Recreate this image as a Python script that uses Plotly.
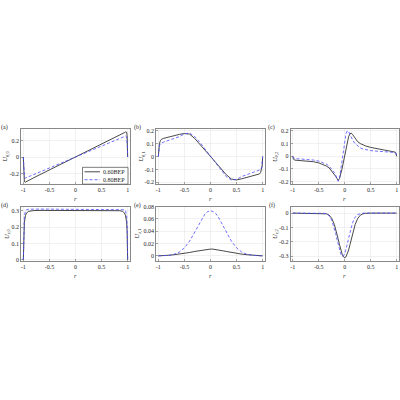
import plotly.graph_objects as go

# ---------------- data ----------------
R = [-1, -0.995, -0.99, -0.98, -0.96, -0.94, -0.9, -0.85, -0.8, -0.7, -0.6, -0.5, -0.4, -0.3, -0.25,
     -0.2, -0.15, -0.1, -0.05, 0, 0.05, 0.1, 0.15, 0.2, 0.25, 0.3, 0.4, 0.5, 0.6, 0.7, 0.8, 0.85,
     0.9, 0.94, 0.96, 0.98, 0.99, 0.995, 1]

RC = [-1, -0.99, -0.97, -0.9, -0.8, -0.7, -0.6, -0.5, -0.4, -0.35, -0.3, -0.25, -0.2, -0.175, -0.15,
      -0.125, -0.1, -0.075, -0.05, -0.025, 0, 0.025, 0.05, 0.075, 0.1, 0.125, 0.15, 0.175, 0.2, 0.25,
      0.3, 0.35, 0.4, 0.5, 0.6, 0.7, 0.8, 0.9, 0.97, 0.99, 1]

A_SOLID = [0, -0.17, -0.26, -0.30, -0.305, -0.297, -0.284, -0.268, -0.252, -0.22, -0.189, -0.157, -0.126,
           -0.094, -0.079, -0.063, -0.047, -0.031, -0.016, 0, 0.016, 0.031, 0.047, 0.063, 0.079, 0.094,
           0.126, 0.157, 0.189, 0.22, 0.252, 0.268, 0.284, 0.297, 0.305, 0.30, 0.26, 0.17, 0]
A_DASH = [0, -0.12, -0.20, -0.245, -0.255, -0.25, -0.24, -0.226, -0.213, -0.186, -0.16, -0.133, -0.107,
          -0.08, -0.067, -0.053, -0.04, -0.027, -0.013, 0, 0.013, 0.027, 0.04, 0.053, 0.067, 0.08,
          0.107, 0.133, 0.16, 0.186, 0.213, 0.226, 0.24, 0.25, 0.255, 0.245, 0.20, 0.12, 0]

B_SOLID = [0, 0.05, 0.075, 0.1, 0.125, 0.135, 0.142, 0.148, 0.153, 0.163, 0.173, 0.18, 0.175, 0.14,
           0.118, 0.094, 0.07, 0.046, 0.022, 0, -0.022, -0.046, -0.07, -0.094, -0.118, -0.14, -0.175,
           -0.182, -0.173, -0.163, -0.153, -0.148, -0.142, -0.135, -0.125, -0.1, -0.075, -0.05, 0]
B_DASH = [0, 0.04, 0.06, 0.085, 0.102, 0.107, 0.113, 0.12, 0.127, 0.14, 0.155, 0.178, 0.183, 0.155,
          0.135, 0.11, 0.083, 0.056, 0.028, 0, -0.028, -0.056, -0.083, -0.11, -0.135, -0.155, -0.183,
          -0.178, -0.155, -0.14, -0.127, -0.12, -0.113, -0.107, -0.102, -0.085, -0.06, -0.04, 0]

C_SOLID = [0, -0.02, -0.03, -0.032, -0.034, -0.037, -0.043, -0.052, -0.066, -0.078, -0.092, -0.115,
           -0.14, -0.158, -0.175, -0.19, -0.175, -0.14, -0.095, -0.045, 0.01, 0.065, 0.115, 0.155,
           0.178, 0.183, 0.172, 0.157, 0.14, 0.115, 0.1, 0.09, 0.082, 0.07, 0.062, 0.055, 0.048,
           0.04, 0.033, 0.02, 0]
C_DASH = [0, -0.012, -0.018, -0.02, -0.022, -0.025, -0.03, -0.038, -0.052, -0.063, -0.078, -0.1,
          -0.128, -0.15, -0.175, -0.197, -0.17, -0.1, -0.02, 0.06, 0.13, 0.18, 0.2, 0.195, 0.17,
          0.148, 0.13, 0.113, 0.1, 0.08, 0.066, 0.058, 0.052, 0.045, 0.041, 0.038, 0.036, 0.034,
          0.03, 0.018, 0]

D_SOLID = [0, 0.1, 0.17, 0.23, 0.27, 0.287, 0.297, 0.301, 0.302, 0.303, 0.303, 0.303, 0.303, 0.303,
           0.303, 0.303, 0.303, 0.303, 0.303, 0.303, 0.303, 0.303, 0.303, 0.303, 0.303, 0.303, 0.303,
           0.303, 0.303, 0.303, 0.302, 0.301, 0.297, 0.287, 0.27, 0.23, 0.17, 0.1, 0]
D_DASH = [0, 0.13, 0.21, 0.27, 0.3, 0.307, 0.31, 0.311, 0.311, 0.311, 0.311, 0.311, 0.311, 0.311,
          0.311, 0.311, 0.311, 0.311, 0.311, 0.311, 0.311, 0.311, 0.311, 0.311, 0.311, 0.311, 0.311,
          0.311, 0.311, 0.311, 0.311, 0.311, 0.31, 0.307, 0.3, 0.27, 0.21, 0.13, 0]

E_SOLID = [0, 0, 0.0001, 0.0001, 0.0002, 0.0002, 0.0003, 0.0006, 0.001, 0.0018, 0.0028, 0.004, 0.0055,
           0.0072, 0.008, 0.0089, 0.0097, 0.0104, 0.0109, 0.011, 0.0109, 0.0104, 0.0097, 0.0089, 0.008,
           0.0072, 0.0055, 0.004, 0.0028, 0.0018, 0.001, 0.0006, 0.0003, 0.0002, 0.0002, 0.0001,
           0.0001, 0, 0]
E_DASH = [0, 0, 0, 0.0001, 0.0001, 0.0001, 0.0002, 0.0004, 0.0008, 0.0025, 0.006, 0.013, 0.024, 0.039,
          0.047, 0.055, 0.063, 0.069, 0.072, 0.0735, 0.072, 0.069, 0.063, 0.055, 0.047, 0.039, 0.024,
          0.013, 0.006, 0.0025, 0.0008, 0.0004, 0.0002, 0.0001, 0.0001, 0.0001, 0, 0, 0]

F_SOLID = [0, 0, 0, 0, 0, 0, 0, 0, -0.0015, -0.005, -0.014, -0.037, -0.079, -0.109, -0.144, -0.182,
           -0.22, -0.256, -0.285, -0.303, -0.31, -0.303, -0.285, -0.256, -0.22, -0.182, -0.144,
           -0.109, -0.079, -0.037, -0.014, -0.005, -0.0015, 0, 0, 0, 0, 0, 0, 0, 0]
F_DASH = [0, 0, 0, 0, 0, 0, 0, 0, -0.0014, -0.006, -0.018, -0.049, -0.104, -0.141, -0.182, -0.223,
          -0.259, -0.285, -0.299, -0.297, -0.281, -0.252, -0.215, -0.174, -0.133, -0.097, -0.068,
          -0.044, -0.028, -0.009, -0.0025, -0.0006, 0, 0, 0, 0, 0, 0, 0, 0, 0]

SERIES_NAMES = ["0.60BEP", "0.80BEP"]
X_TICKS = [-1, -0.5, 0, 0.5, 1]
X_TICK_TEXT = ["-1", "-0.5", "0", "0.5", "1"]

PANELS = [
    dict(lab="(a)", x=R, s=A_SOLID, d=A_DASH, yr=[-0.33, 0.34], yt=[-0.2, 0, 0.2],
         ytt=["-0.2", "0", "0.2"], ttl="<i>U</i><sub><i>θ</i>,0</sub>", toff=15),
    dict(lab="(b)", x=R, s=B_SOLID, d=B_DASH, yr=[-0.215, 0.215], yt=[-0.2, -0.1, 0, 0.1, 0.2],
         ytt=["-0.2", "-0.1", "0", "0.1", "0.2"], ttl="<i>U</i><sub><i>θ</i>,1</sub>", toff=14),
    dict(lab="(c)", x=RC, s=C_SOLID, d=C_DASH, yr=[-0.22, 0.215], yt=[-0.2, -0.1, 0, 0.1, 0.2],
         ytt=["-0.2", "-0.1", "0", "0.1", "0.2"], ttl="<i>U</i><sub><i>θ</i>,2</sub>", toff=15),
    dict(lab="(d)", x=R, s=D_SOLID, d=D_DASH, yr=[-0.01, 0.326], yt=[0, 0.1, 0.2, 0.3],
         ytt=["0", "0.1", "0.2", "0.3"], ttl="<i>U</i><sub><i>z</i>,0</sub>", toff=14),
    dict(lab="(e)", x=R, s=E_SOLID, d=E_DASH, yr=[-0.009, 0.08], yt=[0, 0.02, 0.04, 0.06, 0.08],
         ytt=["0", "0.02", "0.04", "0.06", "0.08"], ttl="<i>U</i><sub><i>z</i>,1</sub>", toff=18.5),
    dict(lab="(f)", x=RC, s=F_SOLID, d=F_DASH, yr=[-0.335, 0.045], yt=[-0.3, -0.2, -0.1, 0],
         ytt=["-0.3", "-0.2", "-0.1", "0"], ttl="<i>U</i><sub><i>z</i>,2</sub>", toff=15.5),
]

# ---------------- layout geometry (pixels in a 400x400 page) ----------------
W = H = 400
COLS_PX = [(21, 130), (156, 265), (290.5, 399)]
ROWS_PX = [(127.3, 183), (205.7, 261)]
FONT = "Liberation Serif"
BLACK = "#1a1a1a"
BLUE = "#4a4aff"
FRAME = "#555555"
GRID = "#e3e3e3"


def px(xp):
    return xp / W


def py(yp):
    return 1 - yp / H


fig = go.Figure()
layout = dict(width=W, height=H, margin=dict(l=0, r=0, t=0, b=0), paper_bgcolor="white",
              plot_bgcolor="white", font=dict(family=FONT, size=6, color="#262626"),
              showlegend=False, annotations=[], shapes=[])

for i, p in enumerate(PANELS):
    k = i + 1
    row, col = divmod(i, 3)
    x0, x1 = COLS_PX[col]
    y0, y1 = ROWS_PX[row]
    xa = "x" if k == 1 else f"x{k}"
    ya = "y" if k == 1 else f"y{k}"
    fig.add_trace(go.Scatter(x=p["x"], y=p["s"], mode="lines", xaxis=xa, yaxis=ya,
                             line=dict(color=BLACK, width=0.8), name=SERIES_NAMES[0],
                             hoverinfo="skip"))
    fig.add_trace(go.Scatter(x=p["x"], y=p["d"], mode="lines", xaxis=xa, yaxis=ya,
                             line=dict(color=BLUE, width=0.8, dash="3px,2px"), name=SERIES_NAMES[1],
                             hoverinfo="skip"))
    common = dict(showline=True, mirror=True, linecolor=FRAME, linewidth=0.7, ticks="inside",
                  ticklen=2, tickcolor=FRAME, tickwidth=0.5, showgrid=True, gridcolor=GRID,
                  gridwidth=0.5, zeroline=False, tickfont=dict(size=6, family=FONT),
                  fixedrange=True)
    axx = dict(domain=[px(x0), px(x1)], range=[-1.045, 1.045], anchor=ya, tickvals=X_TICKS,
               ticktext=X_TICK_TEXT, **common)
    axy = dict(domain=[py(y1), py(y0)], range=p["yr"], anchor=xa, tickvals=p["yt"],
               ticktext=p["ytt"], **common)
    layout["xaxis" if k == 1 else f"xaxis{k}"] = axx
    layout["yaxis" if k == 1 else f"yaxis{k}"] = axy
    # panel label
    layout["annotations"].append(dict(text=p["lab"], x=px(x0 - (16.5 if col == 0 else 19)),
                                      y=py(y0 - 1.5), xref="paper", yref="paper",
                                      xanchor="center", yanchor="middle", showarrow=False,
                                      font=dict(size=6, family=FONT)))
    # y title
    layout["annotations"].append(dict(text=p["ttl"], x=px(x0 - p["toff"]), y=py((y0 + y1) / 2),
                                      xref="paper", yref="paper", textangle=-90,
                                      xanchor="center", yanchor="middle", showarrow=False,
                                      font=dict(size=6.5, family=FONT)))
    # x title
    layout["annotations"].append(dict(text="<i>r</i>", x=px((x0 + x1) / 2), y=py(y1 + 14),
                                      xref="paper", yref="paper", xanchor="center",
                                      yanchor="middle", showarrow=False,
                                      font=dict(size=6.5, family=FONT)))

# ---------------- legend box inside panel (a) ----------------
LX0, LX1, LY0, LY1 = 82.5, 128, 166, 183
layout["shapes"].append(dict(type="rect", xref="paper", yref="paper", x0=px(LX0), x1=px(LX1),
                             y0=py(LY1), y1=py(LY0), line=dict(color="#262626", width=0.6),
                             fillcolor="white", layer="above"))
legend_rows = [(SERIES_NAMES[0], BLACK, "solid", 170.5), (SERIES_NAMES[1], BLUE, "3px,2px", 178.5)]
for name, color, dash, yy in legend_rows:
    layout["shapes"].append(dict(type="line", xref="paper", yref="paper", x0=px(84.5), x1=px(100),
                                 y0=py(yy), y1=py(yy), line=dict(color=color, width=0.8, dash=dash),
                                 layer="above"))
    layout["annotations"].append(dict(text=name, x=px(101.5), y=py(yy), xref="paper", yref="paper",
                                      xanchor="left", yanchor="middle", showarrow=False,
                                      font=dict(size=6, family=FONT)))

fig.update_layout(**layout)
fig.write_html("out.html", config={"displayModeBar": False, "staticPlot": True},
               post_script="document.body.style.margin='0';document.body.style.overflow='hidden';")
